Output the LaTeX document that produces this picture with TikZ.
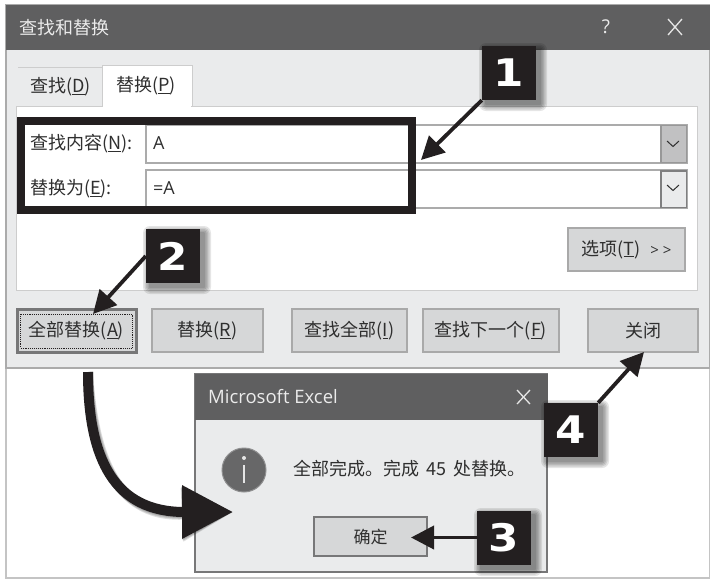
\documentclass[tikz,border=0pt]{standalone}
\usepackage{fontspec}
\usepackage{graphicx}
\setmainfont{Noto Sans CJK SC}
\newfontfamily\latinui{Open Sans}
\newfontfamily\badgefont[Scale=1]{DejaVu Sans Bold}
\usetikzlibrary{arrows.meta,calc}
\definecolor{ink}{HTML}{231F20}
\definecolor{txt}{HTML}{2F2F2F}
\definecolor{titlebar}{HTML}{5F5F60}
\definecolor{dlgbg}{HTML}{EAEBEC}
\definecolor{btnbg}{HTML}{D6D7D8}
\definecolor{btnline}{HTML}{A9A9A9}
\definecolor{frameline}{HTML}{ABABAB}
\newcommand{\softshadow}[4]{%
  \foreach \d in {7,5.5,4,2.5,1}{%
    \fill[black,opacity=.10,rounded corners=\d pt]
      ({#1+4-\d},{#2+4-\d}) rectangle ({#3+4+\d},{#4+4+\d});}}
\tikzset{
  btn/.style={draw=btnline,fill=btnbg,line width=1.2pt,inner sep=0pt,text=txt,font=\fontsize{18}{20}\selectfont,minimum height=43pt},
  label/.style={inner sep=0pt,text=txt,font=\fontsize{18}{20}\selectfont},
  titletext/.style={inner sep=0pt,text=white!92!black,font=\fontsize{18}{20}\selectfont},
  field/.style={draw=frameline,fill=white,line width=1.2pt},
  badge/.style={fill=ink,inner sep=0pt,minimum size=54pt,text=white,font=\badgefont\fontsize{38}{38}\selectfont},
  link/.style={draw=ink,line width=3.8pt,-{Triangle[length=23pt,width=23pt]}},
  bigarrow/.style={draw=ink,line width=10pt,-{Triangle[length=51pt,width=51pt]}},
  chev/.style={draw=txt,line width=1pt},
  wicon/.style={draw=white!90!black,line width=1.3pt},
}
\begin{document}
\begin{tikzpicture}[x=1pt,y=-1pt]
\useasboundingbox (0,0) rectangle (715,582);
\fill[white] (0,0) rectangle (715,582);
% outer frame and main dialog
\draw[draw=frameline!70!white,line width=1.2pt,fill=white] (6,368) rectangle (709.5,578);
\draw[draw=frameline,line width=1.2pt,fill=dlgbg] (6,5) rectangle (709.5,368);
\fill[titlebar] (5.5,4.5) rectangle (710,50);
\node[titletext,anchor=west] (dlgtitle) at (19,28) {查找和替换};
\node[titletext,font=\latinui\fontsize{19}{20}\selectfont] (help) at (606,27) {?};
\draw[wicon] (668,19) -- (682,35) (682,19) -- (668,35);
% tab pane
\draw[draw=frameline!60!white,line width=1pt,fill=white] (16,106) rectangle (697,290);
\draw[draw=frameline!60!white,line width=1pt] (18,67.5) -- (102,67.5);
\draw[draw=frameline!60!white,line width=1pt,fill=white] (102,106) -- (102,65) -- (192,65) -- (192,106);
\fill[white] (102.6,100) rectangle (191.4,107);
\node[label] (tabfind) at (60.5,87) {查找(\underline{D})};
\node[label] (tabrep) at (146,86) {替换(\underline{P})};
% fields
\draw[field] (146,125) rectangle (687,163);
\draw[field] (146,170) rectangle (687,208);
\draw[draw=btnline!90!black,fill=btnbg!90!black,line width=1.4pt] (661,125.5) rectangle (686.5,162.5);
\draw[draw=titlebar!80!white,fill=dlgbg,line width=1.6pt] (661,171) rectangle (686.5,207.5);
\draw[chev] (667,141) -- (673,146.5) -- (679,141);
\draw[chev] (667,185) -- (673,190.5) -- (679,185);
\node[label,anchor=west] (lblfind) at (30,144) {查找内容(\underline{N}):};
\node[label,anchor=west] (lblrep) at (30,189) {替换为(\underline{E}):};
\node[label,anchor=west,font=\latinui\fontsize{18}{20}\selectfont] (valfind) at (153,143) {A};
\node[label,anchor=west,font=\latinui\fontsize{18}{20}\selectfont] (valrep) at (153,188) {=A};
\draw[draw=ink,line width=8pt] (21,121) rectangle (412,210);
% buttons
\node[btn,minimum width=117pt] (btnopt) at (626.5,249.5) {选项(\underline{T})\,\, {\latinui\fontsize{15}{18}\selectfont > >}};
\node[btn,minimum width=119pt,draw=titlebar!85!white,line width=3pt] (btnall) at (76.5,330.5) {全部替换(\underline{A})};
\draw[draw=ink,line width=.9pt,densely dotted] (20.5,314) rectangle (132.5,348);
\node[btn,minimum width=111pt] (btnreplace) at (207.5,330.5) {替换(\underline{R})};
\node[btn,minimum width=115pt] (btnfindall) at (349.5,330.5) {查找全部(\underline{I})};
\node[btn,minimum width=136pt] (btnnext) at (491,330.5) {查找下一个(\underline{F})};
\node[btn,minimum width=110pt] (btnclose) at (643,330.5) {关闭};
% Excel dialog
\draw[draw=titlebar!85!white,line width=1.2pt,fill=dlgbg] (195,374) rectangle (547,572);
\fill[titlebar] (194.5,373.5) rectangle (547.5,420);
\node[titletext,anchor=west,font=\latinui\fontsize{18.5}{20}\selectfont] (xltitle) at (208,397) {Microsoft Excel};
\draw[wicon] (517,390) -- (530,404) (530,390) -- (517,404);
\node[circle,draw=titlebar!70!white,line width=1pt,fill=titlebar!95!white,minimum size=44pt,inner sep=0pt] (info) at (244,470) {};
\draw[draw=white!90!black,line width=2pt] (244,465) -- (244,483);
\fill[white!90!black] (244,458) circle (2pt);
\node[label,anchor=west,font=\fontsize{18}{20}\selectfont] (xlmsg) at (293,469) {全部完成。完成\, 45\, 处替换。};
\node[btn,minimum width=113pt,minimum height=39pt,draw=titlebar!85!white,line width=2.6pt,font=\fontsize{17}{20}\selectfont] (btnok) at (370.5,536.5) {确定};
% tips
\coordinate (tipa) at (421,160);
\coordinate (tipb) at (93,314);
\coordinate (tipc) at (411,537.5);
\coordinate (tipd) at (644,352);
\coordinate (bigstart) at (88,372);
\coordinate (bigend) at (233,512);
% big arrow
\foreach \d in {2,4,6}{%
  \draw[bigarrow,draw=black,opacity=.13,shift={(\d,\d)}] (bigstart) .. controls (88,460) and (115,512) .. (bigend);}
\draw[bigarrow] (bigstart) .. controls (88,460) and (115,512) .. (bigend);
% badges
\softshadow{482}{46}{536}{100}
\softshadow{146}{229}{200}{283}
\softshadow{477}{511}{531}{565}
\softshadow{544}{403}{598}{457}
\node[badge] (ba) at (509,73) {\scalebox{1.15}[1]{1}};
\node[badge] (bb) at (173,256) {\scalebox{1.15}[1]{2}};
\node[badge] (bc) at (504,537.5) {\scalebox{1.15}[1]{3}};
\node[badge] (bd) at (571,430) {\scalebox{1.15}[1]{4}};
% links
\draw[link] (ba.south west) -- (tipa);
\draw[link] (bb.west) -- (tipb);
\draw[link] (bc.west) -- (tipc);
\draw[link] (bd.north east) -- (tipd);
\end{tikzpicture}
\end{document}
